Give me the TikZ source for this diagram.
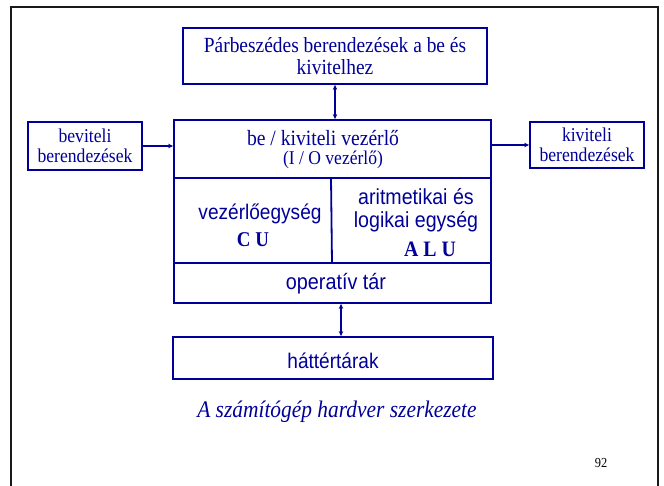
\documentclass[tikz,border=0pt]{standalone}
\usepackage{fontspec}
\setmainfont{Liberation Serif}[FakeStretch=0.9]
\setsansfont{Liberation Sans}[FakeStretch=0.9]
\usetikzlibrary{arrows.meta}
\definecolor{pblue}{RGB}{0,0,153}
\begin{document}
\begin{tikzpicture}[x=1pt,y=-1pt,
  box/.style={draw=pblue, line width=1.8pt, inner sep=0pt, text=pblue},
  lbl/.style={text=pblue, inner sep=0pt, anchor=base},
  divline/.style={draw=pblue, line width=1.8pt},
  conn/.style={draw=pblue, line width=1.1pt, -{Stealth[length=5pt,width=4.5pt]}},
  dconn/.style={draw=pblue, line width=1.1pt, {Stealth[length=5pt,width=4.5pt]}-{Stealth[length=5pt,width=4.5pt]}},
]
\useasboundingbox (0,0) rectangle (664,486);
\fill[white] (0,0) rectangle (664,486);
\begin{scope}
\clip (0,0) rectangle (664,486);
\draw[line width=2.8pt, black!90] (11,7) rectangle (658,530);
\end{scope}

\node[box, minimum width=304pt, minimum height=56pt, align=center,
      font=\fontsize{21.6}{22}\selectfont] (top) at (335,56) {Párbeszédes berendezések a be és\\kivitelhez};
\node[box, minimum width=114pt, minimum height=48pt, align=center,
      font=\fontsize{19.6}{20}\selectfont] (in) at (85,146) {beviteli\\berendezések};
\node[box, minimum width=114pt, minimum height=46pt, align=center,
      font=\fontsize{19.6}{20}\selectfont] (out) at (587,145) {kiviteli\\berendezések};
\node[box, minimum width=317pt, minimum height=183pt] (main) at (332.5,211.5) {};
\node[box, minimum width=320pt, minimum height=42pt, text height=20pt, text depth=0pt,
      font=\sffamily\fontsize{21.2}{22}\selectfont] (hat) at (333,358) {háttértárak};

\draw[divline] (main.west |- 0,178) -- (main.east |- 0,178);
\draw[divline] (331,178) -- (332,263);
\draw[divline] (main.west |- 0,263) -- (main.east |- 0,263);

\node[lbl, font=\fontsize{21.8}{22}\selectfont] (io1) at (323,146) {be / kiviteli vezérlő};
\node[lbl, font=\fontsize{19.5}{20}\selectfont] (io2) at (333,165) {(I / O vezérlő)};
\node[lbl, font=\sffamily\fontsize{21.2}{22}\selectfont] (cu1) at (260,220) {vezérlőegység};
\node[lbl, font=\bfseries\fontsize{21}{22}\selectfont] (cu2) at (253,247) {C U};
\node[lbl, font=\sffamily\fontsize{21.8}{22}\selectfont] (alu1) at (416,205) {aritmetikai és};
\node[lbl, font=\sffamily\fontsize{21.8}{22}\selectfont] (alu2) at (416,228) {logikai egység};
\node[lbl, font=\bfseries\fontsize{22}{22}\selectfont] (alu3) at (430,257) {A L U};
\node[lbl, font=\sffamily\fontsize{22}{22}\selectfont] (op) at (336,290) {operatív tár};
\node[lbl, font=\itshape\fontsize{23.8}{24}\selectfont] (cap) at (337,417) {A számítógép hardver szerkezete};
\node[lbl, text=black, font=\fontsize{13.8}{14}\selectfont] (pg) at (601,467) {92};

\coordinate (ax) at (341,0);
\draw[dconn] (top.south) -- (top.south |- main.north);
\draw[conn] (in.east) -- (in.east -| main.west);
\draw[conn] (main.east |- out.west) -- (out.west);
\draw[dconn] (main.south -| ax) -- (hat.north -| ax);
\end{tikzpicture}
\end{document}
